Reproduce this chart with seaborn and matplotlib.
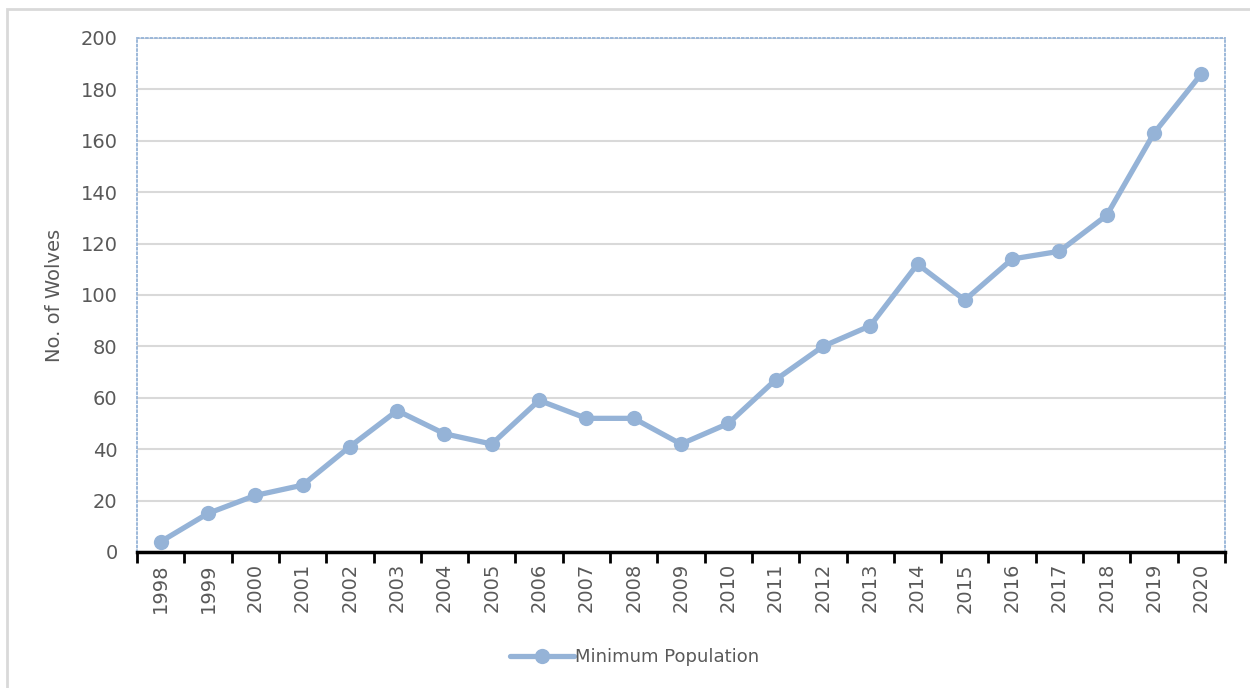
import matplotlib
matplotlib.use("Agg")
import matplotlib.pyplot as plt
from matplotlib.patches import Rectangle
from matplotlib.ticker import FixedLocator, NullFormatter
import seaborn as sns
import pandas as pd

years = [str(y) for y in range(1998, 2021)]
population = [4, 15, 22, 26, 41, 55, 46, 42, 59, 52, 52, 42, 50,
              67, 80, 88, 112, 98, 114, 117, 131, 163, 186]
series_name = "Minimum Population"
y_label = "No. of Wolves"
y_ticks = [0, 20, 40, 60, 80, 100, 120, 140, 160, 180, 200]

sns.set_theme(style="white")
plt.rcParams["font.family"] = ["DejaVu Sans"]

text_color = "#595959"
line_color = "#95B3D7"
grid_color = "#D9D9D9"

df = pd.DataFrame({"pos": range(len(years)), "value": population, "series": series_name})

fig = plt.figure(figsize=(12.5, 6.88), dpi=100)
ax = fig.add_axes([0.1096, 0.1977, 0.8704, 0.7471])

sns.lineplot(data=df, x="pos", y="value", hue="series", palette=[line_color],
             marker="o", markersize=11, linewidth=3.8, markeredgewidth=0,
             ax=ax, legend=True)

ax.set_xlim(-0.5, len(years) - 0.5)
ax.set_ylim(0, 200)
ax.set_yticks(y_ticks)
ax.yaxis.grid(True, color=grid_color, linewidth=1.5)
ax.xaxis.grid(False)
ax.set_axisbelow(True)

# category boundaries carry the tick marks, centres carry the labels
ax.xaxis.set_major_locator(FixedLocator([i - 0.5 for i in range(len(years) + 1)]))
ax.xaxis.set_major_formatter(NullFormatter())
ax.xaxis.set_minor_locator(FixedLocator(list(range(len(years)))))
ax.set_xticklabels(years, minor=True, rotation=90, fontsize=14, color=text_color)
ax.tick_params(axis="x", which="major", length=8, width=2, color="black", direction="out", bottom=True)
ax.tick_params(axis="x", which="minor", length=0, pad=8)
ax.tick_params(axis="y", length=0, labelsize=14, labelcolor=text_color, pad=14)

ax.set_xlabel("")
ax.set_ylabel(y_label, fontsize=14, color=text_color, labelpad=12)

for side in ("left", "top", "right"):
    ax.spines[side].set_visible(True)
    ax.spines[side].set_linestyle((0, (1, 1.5)))
    ax.spines[side].set_color(line_color)
    ax.spines[side].set_linewidth(1.3)
ax.spines["bottom"].set_color("black")
ax.spines["bottom"].set_linewidth(2.5)
ax.spines["bottom"].set_zorder(5)

leg = ax.legend(loc="center", frameon=False, fontsize=13, handlelength=3.5,
                handletextpad=0.1, labelcolor=text_color)
leg.set_bbox_to_anchor((0.508, 0.045), transform=fig.transFigure)

fig.patches.append(Rectangle((7 / 1250, -0.01), 1.2, 1 - 9 / 688 + 0.01,
                             transform=fig.transFigure, fill=False,
                             edgecolor="#D9D9D9", linewidth=2))

fig.savefig("out.png", dpi=100, facecolor="white")
